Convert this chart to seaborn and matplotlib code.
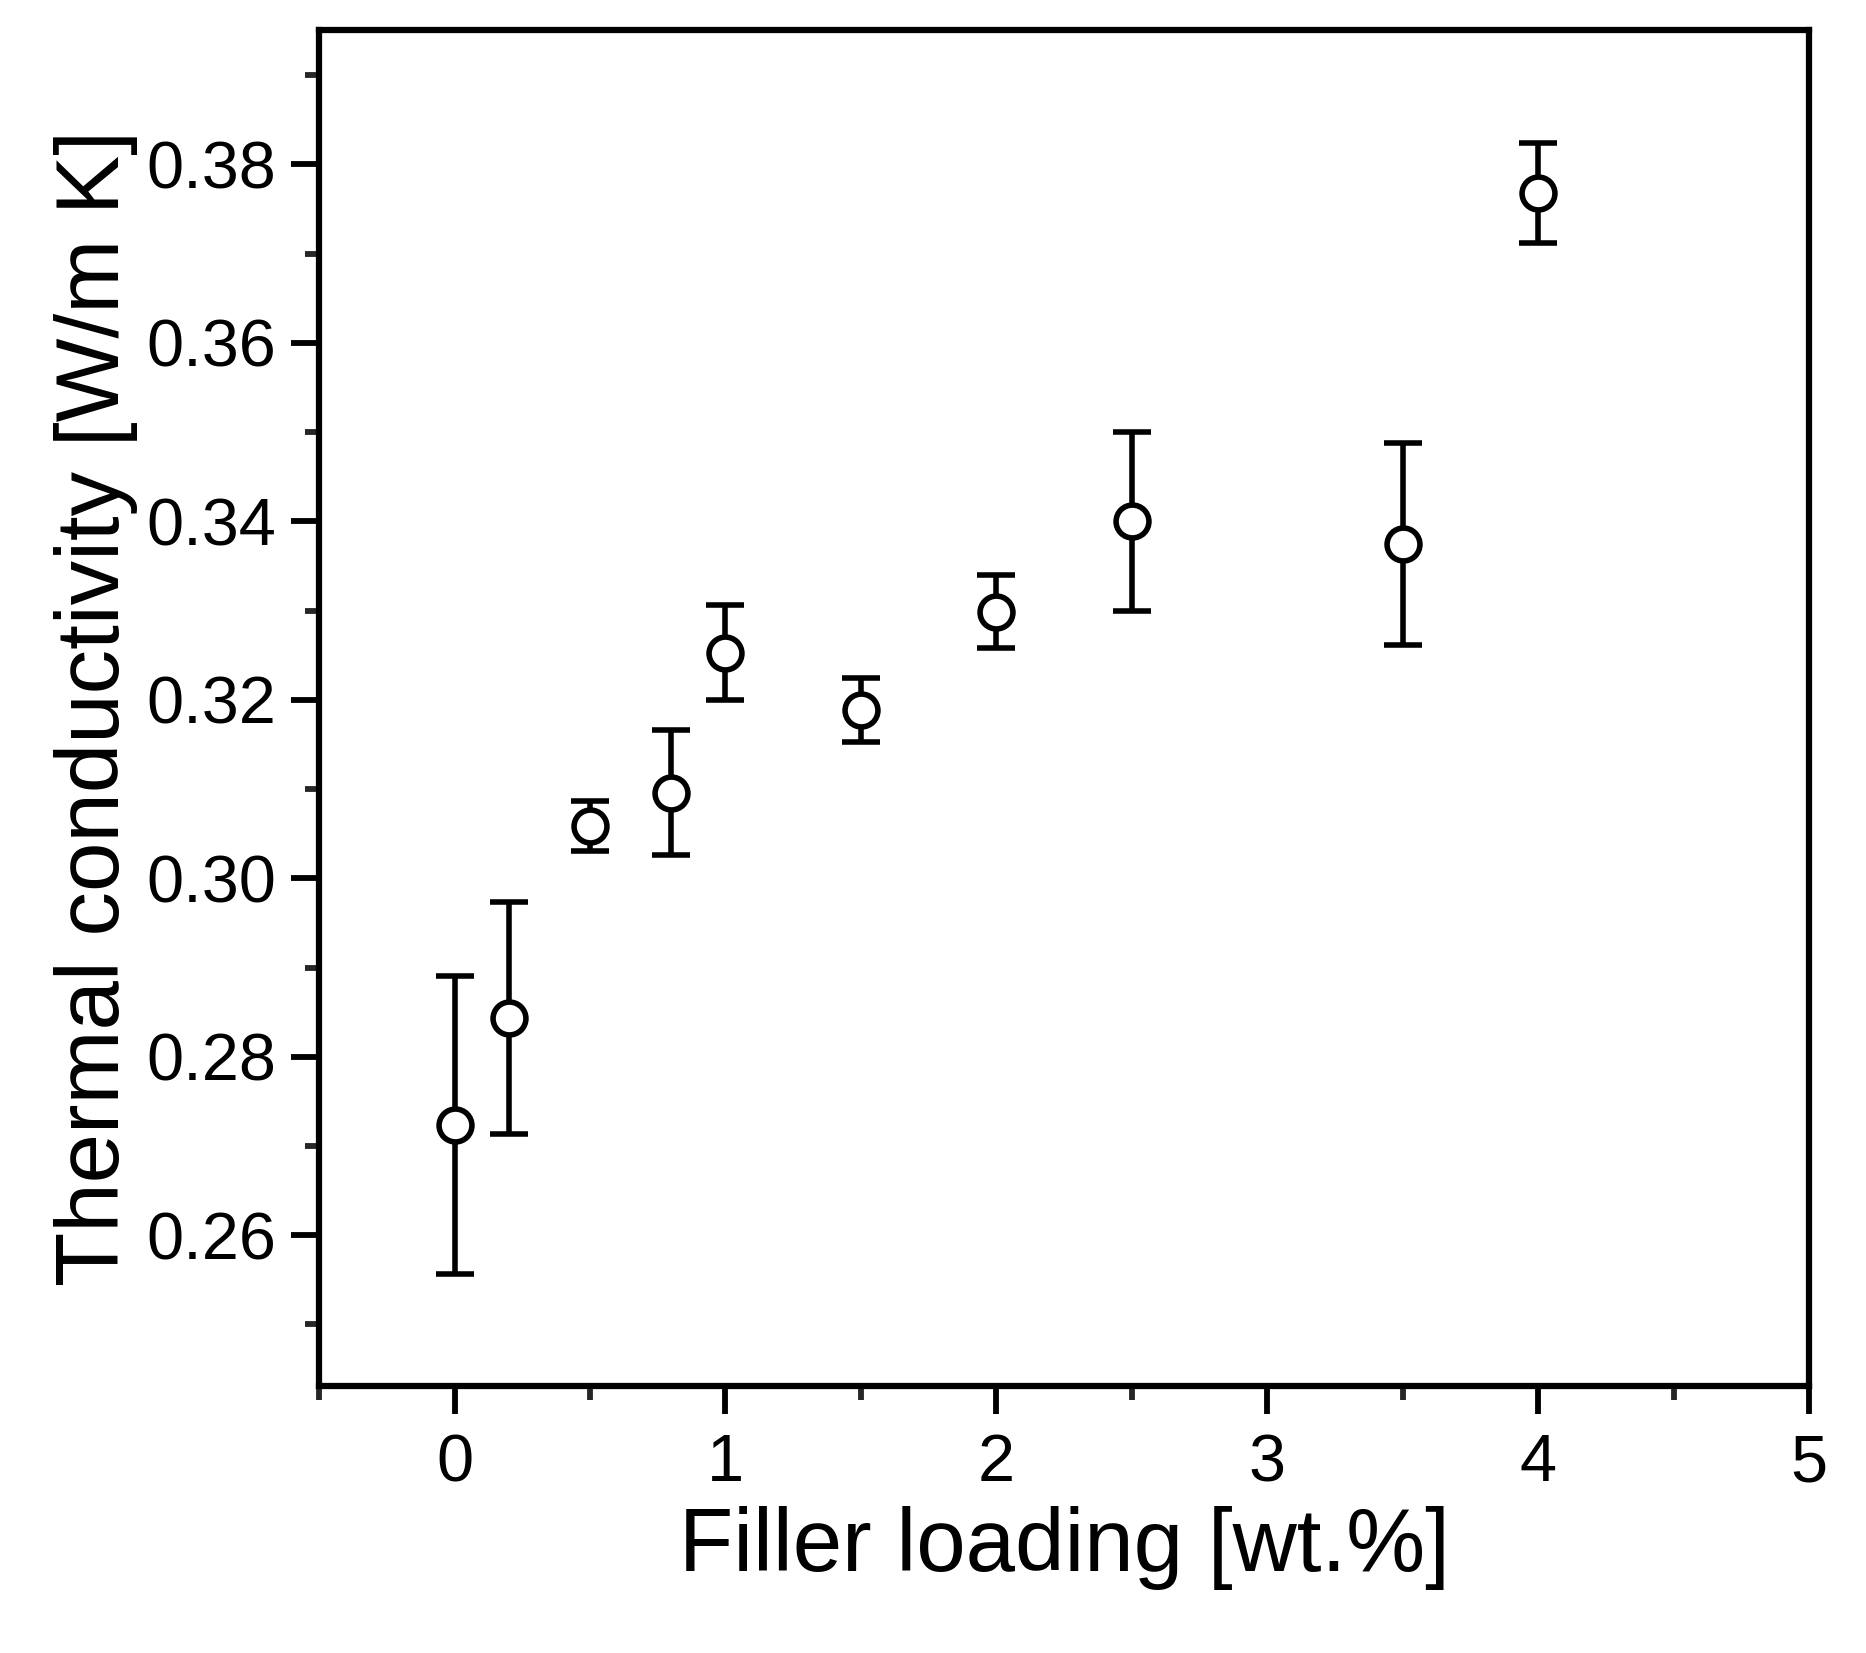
import matplotlib
matplotlib.use('Agg')
import matplotlib.pyplot as plt
from matplotlib.ticker import MultipleLocator
import seaborn as sns
import pandas as pd

# Data
loading = [0.0, 0.2, 0.5, 0.8, 1.0, 1.5, 2.0, 2.5, 3.5, 4.0]
conductivity = [0.2724, 0.2843, 0.3059, 0.3096, 0.3253, 0.3189, 0.3299, 0.3400, 0.3375, 0.3768]
error = [0.0167, 0.0130, 0.0028, 0.0070, 0.0053, 0.0036, 0.0041, 0.0100, 0.0113, 0.0056]

x_ticks = [0, 1, 2, 3, 4, 5]
y_ticks = [0.26, 0.28, 0.30, 0.32, 0.34, 0.36, 0.38]

df = pd.DataFrame({'loading': loading, 'k': conductivity, 'err': error})

sns.set_theme(style="ticks")
plt.rcParams['font.family'] = ['Liberation Sans', 'DejaVu Sans']
plt.rcParams['text.color'] = 'black'
plt.rcParams['axes.labelcolor'] = 'black'

fig = plt.figure(figsize=(18.66, 16.53), dpi=100)
ax = fig.add_axes([0.171, 0.1615, 0.7985, 0.8205])

# error bars first, open circles on top
ax.errorbar(df['loading'], df['k'], yerr=df['err'], fmt='none',
            ecolor='black', elinewidth=4, capsize=14, capthick=4, zorder=2)
sns.scatterplot(data=df, x='loading', y='k', ax=ax, s=560, marker='o',
                facecolor='white', edgecolor='black', linewidth=4, zorder=3)

ax.set_xlim(-0.5, 5)
ax.set_ylim(0.2431, 0.3951)
ax.set_xticks(x_ticks)
ax.set_yticks(y_ticks)
ax.set_yticklabels([f'{v:.2f}' for v in y_ticks])
ax.xaxis.set_minor_locator(MultipleLocator(0.5))
ax.yaxis.set_minor_locator(MultipleLocator(0.01))

for sp in ax.spines.values():
    sp.set_linewidth(4.5)
    sp.set_color('black')

ax.tick_params(which='major', direction='out', length=20, width=4.2,
               labelsize=48, colors='black', pad=11)
ax.tick_params(which='minor', direction='out', length=10, width=4.2)
ax.tick_params(axis='x', which='major', pad=14)

ax.set_xlabel('Filler loading [wt.%]', fontsize=64, labelpad=8)
ax.set_ylabel('Thermal conductivity [W/m K]', fontsize=64, labelpad=6)

fig.savefig('out.png', dpi=100, facecolor='white')
